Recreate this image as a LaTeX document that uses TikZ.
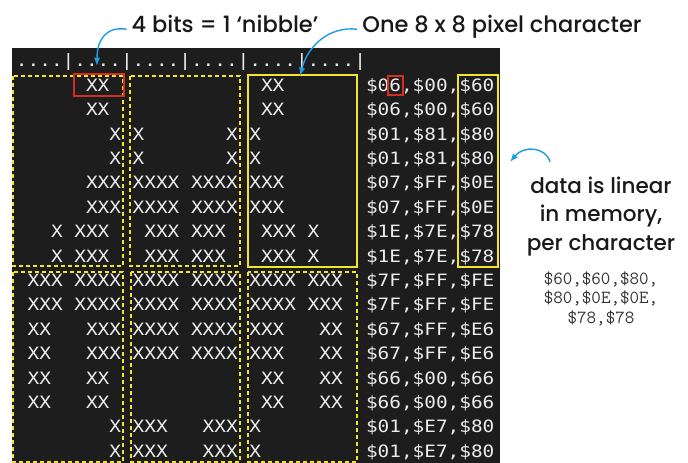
\documentclass[tikz,border=0pt]{standalone}
\usepackage{fontspec}
\setmainfont{Poppins Medium}
\newfontfamily\gridfont{DejaVu Sans Mono}[FakeStretch=1.14]
\usetikzlibrary{arrows.meta}
\tikzset{>={Latex[scale=0.9]}}
\definecolor{panelgrey}{HTML}{1D1D1D}
\definecolor{pixwhite}{HTML}{ECECEC}
\definecolor{boxyellow}{HTML}{F2E32C}
\definecolor{nibred}{HTML}{D62E1C}
\definecolor{arrowblue}{HTML}{1F9BE6}

\begin{document}
\begin{tikzpicture}[x=1pt, y=-1pt,
    pix/.style={font=\gridfont\fontsize{17}{20}\selectfont, text=pixwhite, anchor=base west, inner sep=0pt},
    lbl/.style={font=\fontsize{22.5}{28.5}\selectfont, text=black!90, anchor=base, inner sep=5pt},
    dbox/.style={draw=boxyellow, line width=1.8pt, dash pattern=on 4pt off 3pt},
    sbox/.style={draw=boxyellow, line width=1.8pt},
    rbox/.style={draw=nibred, line width=1.8pt},
    pointer/.style={->, draw=arrowblue, line width=1.4pt}]
  \useasboundingbox (0,0) rectangle (688,463);
  \fill[panelgrey] (12,48) rectangle (500,463);

  % screen dump: ruler, then two rows per byte line
  \node[pix] (r0) at (15.8,66.8) {....|....|....|....|....|....|};
  \foreach \bits/\hex [count=\i] in {
      {~~~~~~XX~~}{~~~~~~~~~~}{~XX~~~~~~~}/{\$06,\$00,\$60},
      {~~~~~~~~X~}{X~~~~~~~X~}{X~~~~~~~~~}/{\$01,\$81,\$80},
      {~~~~~~XXX~}{XXXX~XXXX~}{XXX~~~~~~~}/{\$07,\$FF,\$0E},
      {~~~X~XXX~~}{~XXX~XXX~~}{~XXX~X~~~~}/{\$1E,\$7E,\$78},
      {~XXX~XXXX~}{XXXX~XXXX~}{XXXX~XXX~~}/{\$7F,\$FF,\$FE},
      {~XX~~~XXX~}{XXXX~XXXX~}{XXX~~~XX~~}/{\$67,\$FF,\$E6},
      {~XX~~~XX~~}{~~~~~~~~~~}{~XX~~~XX~~}/{\$66,\$00,\$66},
      {~~~~~~~~X~}{XXX~~~XXX~}{X~~~~~~~~~}/{\$01,\$E7,\$80}}
    \foreach \j in {0,1} {
      \pgfmathtruncatemacro\k{2*\i-1+\j}
      \node[pix] (r\k) at (15.8,{66.8+24.4*\k}) {\bits\hex};
    }

  % character cells
  \draw[dbox] (13,76) rectangle (123,266);
  \draw[dbox] (130,76) rectangle (240,266);
  \draw[sbox] (248,75) rectangle (357,267);
  \draw[dbox] (13,272) rectangle (123,462);
  \draw[dbox] (131,272) rectangle (240,462);
  \draw[dbox] (248,272) rectangle (357,462);
  \draw[sbox] (458,75) rectangle (498,267);
  \draw[rbox] (74,74) rectangle (124,96);
  \draw[rbox] (388,76) rectangle (403,95);

  \node[lbl] (nib) at (225,32) {4 bits = 1 ‘nibble’};
  \node[lbl] (chr) at (502,32) {One 8 x 8 pixel character};
  \node[lbl, font=\fontsize{21.5}{28.5}\selectfont, align=center] (data) at (601,250) {data is linear\\in memory,\\per character};
  \node[lbl, font=\ttfamily\fontsize{18.5}{19.5}\selectfont, text=black!80, align=center]
    (bytes) at (601,323) {\$60,\$60,\$80,\\\$80,\$0E,\$0E,\\\$78,\$78};

  \coordinate (nibtip) at (97,66);
  \coordinate (chrtip) at (300,76);
  \coordinate (datatail) at (550,162);
  \coordinate (datatip) at (510,162);
  \draw[pointer] (nib.mid west) .. controls (106,26) and (97,40) .. (nibtip);
  \draw[pointer] (chr.mid west) .. controls (330,26) and (308,45) .. (chrtip);
  \draw[pointer] (datatail) .. controls (546,147) and (524,145) .. (datatip);
\end{tikzpicture}
\end{document}
